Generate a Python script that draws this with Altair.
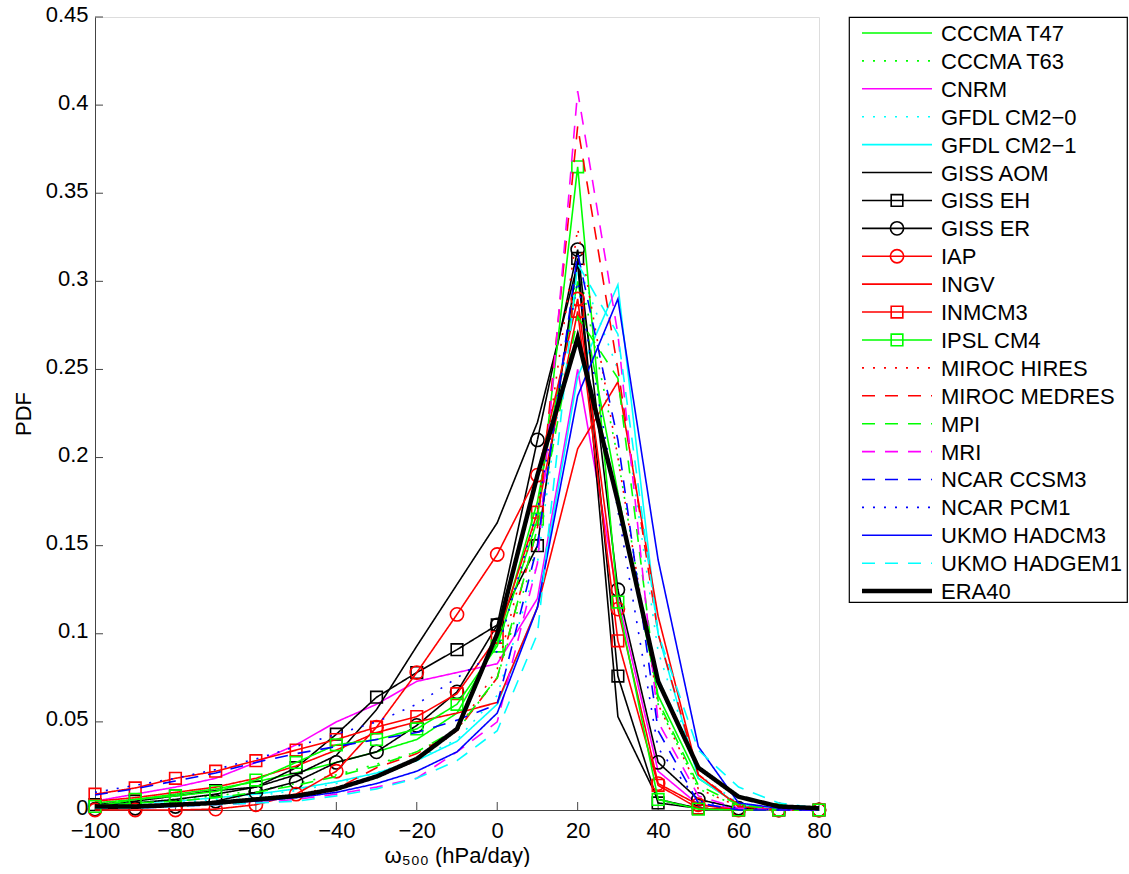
import altair as alt
import pandas as pd

# ---------------- data ----------------
omega = [-100, -90, -80, -70, -60, -50, -40, -30, -20, -10, 0, 10, 20, 30, 40, 50, 60, 70, 80]

cccma_t47 = [0.004, 0.006, 0.009, 0.012, 0.016, 0.021, 0.027, 0.033, 0.040, 0.055, 0.095, 0.175, 0.300, 0.180, 0.065, 0.018, 0.003, 0.0, 0.0]
cccma_t63 = [0.003, 0.004, 0.006, 0.008, 0.011, 0.015, 0.020, 0.026, 0.033, 0.045, 0.075, 0.150, 0.310, 0.200, 0.060, 0.012, 0.002, 0.0, 0.0]
cnrm = [0.005, 0.009, 0.013, 0.018, 0.027, 0.037, 0.050, 0.060, 0.073, 0.078, 0.083, 0.120, 0.250, 0.120, 0.022, 0.003, 0.001, 0.0, 0.0]
gfdl_cm20 = [0.002, 0.003, 0.004, 0.006, 0.008, 0.011, 0.015, 0.021, 0.029, 0.040, 0.065, 0.140, 0.310, 0.250, 0.090, 0.020, 0.004, 0.001, 0.0]
gfdl_cm21 = [0.003, 0.004, 0.005, 0.007, 0.009, 0.012, 0.016, 0.021, 0.028, 0.039, 0.060, 0.115, 0.246, 0.298, 0.100, 0.018, 0.003, 0.0, 0.0]
giss_aom = [0.002, 0.004, 0.006, 0.009, 0.013, 0.020, 0.031, 0.057, 0.093, 0.128, 0.163, 0.220, 0.310, 0.053, 0.006, 0.001, 0.0, 0.0, 0.0]
giss_eh = [0.003, 0.005, 0.008, 0.011, 0.013, 0.024, 0.043, 0.064, 0.078, 0.091, 0.105, 0.150, 0.313, 0.076, 0.004, 0.001, 0.0, 0.0, 0.0]
giss_er = [0.0005, 0.001, 0.002, 0.005, 0.010, 0.016, 0.027, 0.033, 0.048, 0.067, 0.105, 0.210, 0.318, 0.125, 0.027, 0.006, 0.001, 0.0, 0.0]
iap = [0.0, 0.0, 0.0, 0.0005, 0.003, 0.009, 0.022, 0.047, 0.078, 0.111, 0.145, 0.190, 0.290, 0.114, 0.015, 0.003, 0.0, 0.0, 0.0]
ingv = [0.005, 0.007, 0.010, 0.013, 0.018, 0.025, 0.034, 0.044, 0.050, 0.055, 0.061, 0.115, 0.205, 0.243, 0.110, 0.020, 0.002, 0.0, 0.0]
inmcm3 = [0.009, 0.0125, 0.018, 0.022, 0.028, 0.034, 0.040, 0.047, 0.053, 0.066, 0.098, 0.169, 0.283, 0.096, 0.014, 0.001, 0.0, 0.0, 0.0]
ipsl_cm4 = [0.002, 0.006, 0.008, 0.0105, 0.017, 0.027, 0.037, 0.040, 0.046, 0.060, 0.093, 0.165, 0.365, 0.118, 0.006, 0.0005, 0.0, 0.0, 0.0]
miroc_hires = [0.001, 0.002, 0.003, 0.004, 0.006, 0.009, 0.013, 0.019, 0.028, 0.045, 0.080, 0.170, 0.330, 0.200, 0.060, 0.012, 0.002, 0.0, 0.0]
miroc_medres = [0.001, 0.002, 0.003, 0.004, 0.005, 0.008, 0.012, 0.024, 0.032, 0.045, 0.075, 0.160, 0.388, 0.250, 0.100, 0.020, 0.003, 0.0, 0.0]
mpi = [0.002, 0.004, 0.005, 0.007, 0.010, 0.014, 0.019, 0.025, 0.033, 0.046, 0.075, 0.160, 0.280, 0.245, 0.062, 0.014, 0.003, 0.0, 0.0]
mri = [0.001, 0.001, 0.002, 0.003, 0.004, 0.006, 0.009, 0.013, 0.018, 0.033, 0.050, 0.140, 0.408, 0.270, 0.050, 0.008, 0.001, 0.0, 0.0]
ncar_ccsm3 = [0.0085, 0.012, 0.0165, 0.021, 0.027, 0.032, 0.036, 0.040, 0.044, 0.051, 0.060, 0.150, 0.316, 0.210, 0.045, 0.004, 0.0, 0.0, 0.0]
ncar_pcm1 = [0.010, 0.014, 0.018, 0.023, 0.029, 0.036, 0.043, 0.050, 0.060, 0.075, 0.090, 0.170, 0.300, 0.170, 0.035, 0.005, 0.001, 0.0, 0.0]
ukmo_hadcm3 = [0.002, 0.002, 0.003, 0.004, 0.005, 0.007, 0.010, 0.015, 0.022, 0.033, 0.055, 0.115, 0.235, 0.290, 0.142, 0.036, 0.004, 0.001, 0.0]
ukmo_hadgem1 = [0.001, 0.001, 0.002, 0.003, 0.004, 0.005, 0.008, 0.012, 0.018, 0.028, 0.045, 0.100, 0.310, 0.270, 0.100, 0.034, 0.013, 0.004, 0.001]
era40 = [0.002, 0.002, 0.003, 0.004, 0.006, 0.008, 0.012, 0.019, 0.029, 0.046, 0.100, 0.190, 0.268, 0.175, 0.073, 0.024, 0.0075, 0.002, 0.001]

names = ["CCCMA T47", "CCCMA T63", "CNRM", "GFDL CM2\u22120", "GFDL CM2\u22121", "GISS AOM",
         "GISS EH", "GISS ER", "IAP", "INGV", "INMCM3", "IPSL CM4", "MIROC HIRES",
         "MIROC MEDRES", "MPI", "MRI", "NCAR CCSM3", "NCAR PCM1", "UKMO HADCM3",
         "UKMO HADGEM1", "ERA40"]
series = [cccma_t47, cccma_t63, cnrm, gfdl_cm20, gfdl_cm21, giss_aom, giss_eh, giss_er,
          iap, ingv, inmcm3, ipsl_cm4, miroc_hires, miroc_medres, mpi, mri, ncar_ccsm3,
          ncar_pcm1, ukmo_hadcm3, ukmo_hadgem1, era40]

x_ticks = [-100, -80, -60, -40, -20, 0, 20, 40, 60, 80]
y_ticks = [0, 0.05, 0.1, 0.15, 0.2, 0.25, 0.3, 0.35, 0.4, 0.45]

# ---------------- styles ----------------
G, M, C, K, R, B = "#00ff00", "#ff00ff", "#00ffff", "#000000", "#ff0000", "#0000ff"
colors = [G, G, M, C, C, K, K, K, R, R, R, G, R, R, G, M, B, B, B, C, K]
styles = ["-", ":", "-", ":", "-", "-", "-", "-", "-", "-", "-", "-", ":", "--", "--", "--", "--", ":", "-", "--", "-"]
dash_map = {"-": [1, 0], ":": [2, 9], "--": [13, 10]}
dashes = [dash_map[s] for s in styles]
THIN, THICK = 1.6, 4.5
line_width = {n: (THICK if n == "ERA40" else THIN) for n in names}
markers = {"GISS EH": "square", "GISS ER": "circle", "IAP": "circle", "INMCM3": "square", "IPSL CM4": "square"}
marker_size = {"square": 135, "circle": 175}

rows = []
for n, vals in zip(names, series):
    for xv, yv in zip(omega, vals):
        rows.append({"model": n, "omega": xv, "pdf": yv})
df = pd.DataFrame(rows)

FONT = "Liberation Sans"
AX = "#444444"

color_scale = alt.Scale(domain=names, range=colors)
dash_scale = alt.Scale(domain=names, range=dashes)

xscale = alt.Scale(domain=[-100, 80], nice=False, zero=False)
yscale = alt.Scale(domain=[0, 0.45], nice=False, zero=False)

x_axis = alt.Axis(values=x_ticks, ticks=False, tickSize=0, grid=False, labelFontSize=22,
                  labelFont=FONT, labelColor="black", labelPadding=10, domainColor=AX,
                  title="\u03c9\u2085\u2080\u2080 (hPa/day)", titleFont=FONT, titleFontSize=22,
                  titleFontWeight="normal", titleColor="black", titlePadding=4, labelFlush=False)
y_axis = alt.Axis(values=y_ticks, ticks=False, tickSize=0, grid=False, labelFontSize=22,
                  labelFont=FONT, labelColor="black", labelPadding=7, labelOffset=-3, domainColor=AX,
                  format=".2~f", title="PDF", titleFont=FONT, titleFontSize=22,
                  titleFontWeight="normal", titleColor="black", titlePadding=10, labelFlush=False)

x_enc = alt.X("omega:Q", scale=xscale, axis=x_axis)
y_enc = alt.Y("pdf:Q", scale=yscale, axis=y_axis)

base = alt.Chart(df)
layers = []

xt = pd.DataFrame({"omega": x_ticks})
yt = pd.DataFrame({"pdf": y_ticks})
layers.append(alt.Chart(xt).mark_rule(color=AX, strokeWidth=1).encode(
    x=x_enc, y=alt.value(793), y2=alt.value(785)))
layers.append(alt.Chart(yt).mark_rule(color=AX, strokeWidth=1).encode(
    y=y_enc, x=alt.value(0), x2=alt.value(8)))

for n in names:
    sub = base.transform_filter(alt.datum.model == n)
    layers.append(sub.mark_line(strokeCap="butt", strokeJoin="miter", strokeWidth=line_width[n]).encode(
        x=x_enc, y=y_enc,
        color=alt.Color("model:N", scale=color_scale, legend=None),
        strokeDash=alt.StrokeDash("model:N", scale=dash_scale, legend=None),
    ))
    if n in markers:
        shp = markers[n]
        layers.append(sub.mark_point(shape=shp, filled=False, size=marker_size[shp], strokeWidth=1.6, opacity=1).encode(
            x=x_enc, y=y_enc,
            color=alt.Color("model:N", scale=color_scale, legend=None),
        ))

main = alt.layer(*layers).properties(width=724, height=793)

# ---------------- legend panel ----------------
leg = pd.DataFrame({"model": names, "idx": list(range(len(names)))})
leg_y = alt.Y("idx:Q", scale=alt.Scale(domain=[-0.573, 20.39], reverse=True, nice=False, zero=False), axis=None)
lbase = alt.Chart(leg)
leg_layers = []
for w in (THIN, THICK):
    sel = [n for n in names if line_width[n] == w]
    leg_layers.append(lbase.transform_filter(alt.FieldOneOfPredicate(field="model", oneOf=sel)).mark_rule(
        strokeCap="butt", strokeWidth=w).encode(
        x=alt.value(13), x2=alt.value(83), y=leg_y,
        color=alt.Color("model:N", scale=color_scale, legend=None),
        strokeDash=alt.StrokeDash("model:N", scale=dash_scale, legend=None),
    ))
for shp in ["square", "circle"]:
    sel = [n for n in names if markers.get(n) == shp]
    leg_layers.append(lbase.transform_filter(alt.FieldOneOfPredicate(field="model", oneOf=sel)).mark_point(
        shape=shp, filled=False, size=marker_size[shp], strokeWidth=1.6, opacity=1).encode(
        x=alt.value(48), y=leg_y,
        color=alt.Color("model:N", scale=color_scale, legend=None)))
leg_layers.append(lbase.mark_text(align="left", baseline="middle", font=FONT, fontSize=22, color="black", dy=1).encode(
    x=alt.value(92), y=leg_y, text="model:N"))

legend_panel = alt.layer(*leg_layers).properties(
    width=278, height=585, view=alt.ViewBackground(stroke="black", strokeWidth=1.2))

chart = alt.hconcat(main, legend_panel, spacing=30, bounds="flush").configure_view(
    stroke=None).configure(font=FONT, background="white").properties(
    padding={"left": 11, "top": 2, "right": 0, "bottom": 0})

chart.save("out.html", embed_options={"renderer": "svg", "actions": False})
